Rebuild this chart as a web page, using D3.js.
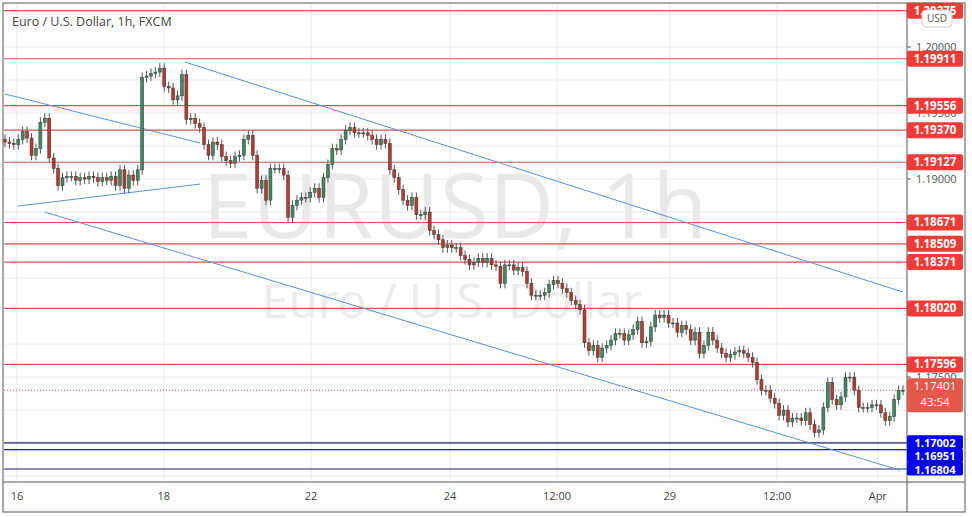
<!DOCTYPE html>
<html><head><meta charset="utf-8">
<script src="https://cdn.jsdelivr.net/npm/d3@7"></script>
<style>body{margin:0;background:#fff;font-family:"Open Sans",Roboto,sans-serif}</style>
</head><body><svg></svg>
<script>
"use strict";

// hourly closes (open = previous close)
const closes = [
  1.1928,1.1927,1.1926,1.1930,1.1936,1.1931,1.1918,1.1923,1.1943,1.1946,
  1.1916,1.1908,1.1895,1.1901,1.1902,1.1902,1.1899,1.1901,1.1900,1.1902,
  1.1901,1.1898,1.1901,
  1.1899,1.1902,1.1895,1.1907,1.1893,1.1903,1.1899,1.1907,1.1977,1.1978,
  1.1980,1.1981,1.1984,1.1970,1.1969,1.1960,1.1963,1.1979,1.1945,1.1946,
  1.1942,1.1939,1.1926,1.1918,1.1928,1.1926,1.1917,1.1914,1.1912,1.1917,
  1.1918,1.1930,1.1933,1.1918,1.1893,1.1899,1.1884,1.1908,1.1908,1.1908,
  1.1903,
  1.1871,1.1880,1.1884,1.1886,1.1886,1.1890,1.1893,1.1886,1.1901,1.1911,
  1.1923,1.1922,1.1930,1.1937,1.1939,1.1935,1.1935,1.1935,1.1933,1.1930,
  1.1926,1.1930,1.1927,1.1907,1.1901,1.1892,1.1884,1.1880,1.1886,1.1873,
  1.1873,1.1875,1.1861,1.1858,1.1854,1.1848,1.1850,1.1848,1.1848,1.1842,
  1.1839,1.1835,1.1837,1.1840,1.1837,1.1840,1.1835,1.1834,1.1821,1.1835,
  1.1835,1.1831,1.1833,1.1830,1.1821,1.1812,1.1812,1.1812,1.1814,1.1820,
  1.1823,1.1821,1.1817,1.1814,1.1808,1.1805,1.1801,1.1776,1.1770,1.1774,
  1.1765,1.1772,1.1774,1.1778,1.1783,1.1783,1.1778,1.1782,1.1786,1.1792,
  1.1776,1.1777,1.1788,1.1797,1.1795,1.1797,1.1791,1.1791,1.1784,1.1789,
  1.1786,1.1778,1.1784,1.1768,1.1774,1.1784,1.1778,1.1772,1.1768,1.1765,
  1.1767,1.1769,1.1770,1.1768,1.1765,1.1761,1.1748,1.1740,1.1740,1.1734,
  1.1730,1.1721,1.1725,1.1716,1.1719,1.1719,1.1717,1.1723,1.1714,1.1708,
  1.1710,1.1727,1.1746,1.1733,1.1729,1.1735,1.1750,1.1750,1.1740,1.1727,
  1.1727,1.1727,1.1729,1.1729,1.1723,1.1717,1.1720,1.1733,1.1740,1.17401
];
const firstOpen = 1.1930;

const redLevels = [1.20275,1.19911,1.19556,1.19370,1.19127,1.18671,1.18509,1.18371,1.18020,1.17596];
const blueLevels = [1.17002,1.16951,1.16804];
const priceTicks = [1.20000,1.19500,1.19000,1.17500];

// trend lines: [startIndex, startPrice, endIndex, endPrice]
const trendLines = [
  [40.7,1.19886,203,1.18144],
  [9.0,1.18750,202.3,1.16795],
  [0,1.19644,44.1,1.19273],
  [2.9,1.18795,44.1,1.18962]
];
const timeTickIdx = [2.7,35.9,69.2,100.6,124.8,150.3,174.5,197.3];
const timeTickLabels = ["16","18","22","24","12:00","29","12:00","Apr"];

const W = 972, H = 517;
const plotL = 4, plotR = 907, plotT = 4, plotB = 482;

const svg = d3.select("svg").attr("width", W).attr("height", H);

const x = d3.scaleLinear().domain([0, closes.length - 1]).range([5, 903]);
const y = d3.scaleLinear().domain([1.16804, 1.20000]).range([469, 47]);

const candles = closes.map((c, i) => ({ i, o: i ? closes[i - 1] : firstOpen, c }));

// grid
svg.append("g").selectAll("line").data(d3.range(1.165, 1.2051, 0.0025)).join("line")
  .attr("x1", plotL).attr("x2", plotR).attr("y1", d => y(d)).attr("y2", d => y(d))
  .attr("stroke", "#ececec");
svg.append("g").selectAll("line").data(timeTickIdx).join("line")
  .attr("x1", d => x(d)).attr("x2", d => x(d)).attr("y1", plotT).attr("y2", plotB)
  .attr("stroke", "#ececec");

// watermark
svg.append("text").attr("x", 455).attr("y", 238).attr("text-anchor", "middle")
  .attr("font-size", 90).attr("fill", "#e9e9e9").text("EURUSD, 1h");
svg.append("text").attr("x", 452).attr("y", 318).attr("text-anchor", "middle")
  .attr("font-size", 48).attr("fill", "#ececec").text("Euro / U.S. Dollar");

// horizontal levels
svg.append("g").selectAll("line").data(redLevels).join("line")
  .attr("x1", plotL).attr("x2", plotR + 4).attr("y1", d => y(d)).attr("y2", d => y(d))
  .attr("stroke", "#d9534f").attr("stroke-width", 1.2);
svg.append("g").selectAll("line").data(blueLevels).join("line")
  .attr("x1", plotL).attr("x2", plotR + 4).attr("y1", d => y(d)).attr("y2", d => y(d))
  .attr("stroke", "#1a237e").attr("stroke-width", 1.2);

// trend lines
svg.append("g").selectAll("line").data(trendLines).join("line")
  .attr("x1", d => x(d[0])).attr("y1", d => y(d[1]))
  .attr("x2", d => x(d[2])).attr("y2", d => y(d[3]))
  .attr("stroke", "#5b8fd9").attr("stroke-width", 1);

// candles
const up = d => d.c >= d.o;
const cg = svg.append("g");
cg.selectAll("line").data(candles).join("line")
  .attr("x1", d => x(d.i)).attr("x2", d => x(d.i))
  .attr("y1", d => y(Math.max(d.o, d.c)) - 5).attr("y2", d => y(Math.min(d.o, d.c)) + 5)
  .attr("stroke", "#555");
cg.selectAll("rect").data(candles).join("rect")
  .attr("x", d => x(d.i) - 1.5).attr("width", 3)
  .attr("y", d => y(Math.max(d.o, d.c)))
  .attr("height", d => Math.max(1, Math.abs(y(d.o) - y(d.c))))
  .attr("fill", d => up(d) ? "#3f8a62" : "#b8392f")
  .attr("stroke", "#333").attr("stroke-width", 0.5);

// last price dotted
const last = closes[closes.length - 1];
svg.append("line").attr("x1", plotL).attr("x2", plotR).attr("y1", y(last)).attr("y2", y(last))
  .attr("stroke", "#c0504d").attr("stroke-dasharray", "1,2");

// frame
svg.append("rect").attr("x", 3).attr("y", 3).attr("width", 962).attr("height", 509)
  .attr("fill", "none").attr("stroke", "#555");
svg.append("line").attr("x1", plotR).attr("x2", plotR).attr("y1", 3).attr("y2", 512).attr("stroke", "#555");
svg.append("line").attr("x1", 3).attr("x2", 965).attr("y1", plotB).attr("y2", plotB).attr("stroke", "#555");

// price axis ticks
const pa = svg.append("g");
pa.selectAll("text").data(priceTicks).join("text")
  .attr("x", 916).attr("y", d => y(d) + 4).attr("font-size", 11).attr("fill", "#555").text(d => d.toFixed(5));
pa.selectAll("line").data(priceTicks).join("line")
  .attr("x1", plotR).attr("x2", plotR + 4).attr("y1", d => y(d)).attr("y2", d => y(d)).attr("stroke", "#555");

// level labels
const labelBox = (py, txt, fill, h) => {
  h = h || 16;
  const g = svg.append("g");
  g.append("rect").attr("x", 907).attr("y", py - 8).attr("width", 56).attr("height", h)
    .attr("rx", 2).attr("fill", fill);
  g.append("text").attr("x", 935).attr("y", py + 4).attr("text-anchor", "middle")
    .attr("font-size", h < 16 ? 11 : 11.5).attr("font-weight", "bold").attr("fill", "#fff").text(txt);
  return g;
};
redLevels.forEach(v => labelBox(y(v), v.toFixed(5), "#f23b36"));
// blue labels are stacked evenly between the outer two levels
const bTop = y(d3.max(blueLevels)), bBot = y(d3.min(blueLevels));
blueLevels.forEach((v, i) => labelBox(bTop + (bBot - bTop) * i / (blueLevels.length - 1) + 0.5, v.toFixed(5), "#0000f0", 14));
const lg = labelBox(y(last) - 4, last.toFixed(5), "#e4574b", 34);
lg.select("text").attr("font-weight", "normal");
lg.append("text").attr("x", 935).attr("y", y(last) + 16).attr("text-anchor", "middle")
  .attr("font-size", 11.5).attr("fill", "#fff").text("43:54");

// USD badge
svg.append("rect").attr("x", 922).attr("y", 10).attr("width", 30).attr("height", 17).attr("rx", 4)
  .attr("fill", "#fff").attr("stroke", "#ccc");
svg.append("text").attr("x", 937).attr("y", 22).attr("text-anchor", "middle")
  .attr("font-size", 10).attr("fill", "#555").text("USD");

// time axis
svg.append("g").selectAll("text").data(timeTickIdx).join("text")
  .attr("x", (d) => x(d)).attr("y", 500).attr("text-anchor", "middle")
  .attr("font-size", 11).attr("fill", "#444").text((d, i) => timeTickLabels[i]);

// title
svg.append("text").attr("x", 12).attr("y", 26).attr("font-size", 12.5).attr("fill", "#444")
  .text("Euro / U.S. Dollar, 1h, FXCM");
</script></body></html>
